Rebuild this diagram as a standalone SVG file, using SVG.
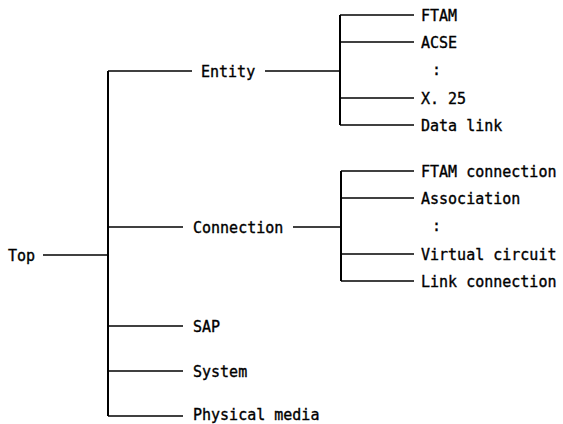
<svg xmlns="http://www.w3.org/2000/svg" width="563" height="424" viewBox="0 0 563 424">
<style>
.t{font-family:"DejaVu Sans Mono","Liberation Mono",monospace;font-size:15px;fill:#000;stroke:#000;stroke-width:0.35}
.c line{stroke:#000;stroke-width:1.4;fill:none}
.c .v{stroke-width:2}
</style>
<rect width="563" height="424" fill="#fff"/>
<g class="c" id="connectors">
<line x1="43" y1="255" x2="108" y2="255"/>
<line class="v" x1="108" y1="71" x2="108" y2="416"/>
<line x1="108" y1="71" x2="192" y2="71"/>
<line x1="265" y1="71" x2="340" y2="71"/>
<line class="v" x1="340" y1="15" x2="340" y2="125"/>
<line x1="340" y1="15" x2="414" y2="15"/>
<line x1="340" y1="42" x2="414" y2="42"/>
<line x1="340" y1="98" x2="414" y2="98"/>
<line x1="340" y1="125" x2="414" y2="125"/>
<line x1="108" y1="227" x2="183" y2="227"/>
<line x1="293" y1="227" x2="341" y2="227"/>
<line class="v" x1="341" y1="171" x2="341" y2="281"/>
<line x1="341" y1="171" x2="414" y2="171"/>
<line x1="341" y1="198" x2="414" y2="198"/>
<line x1="341" y1="254" x2="414" y2="254"/>
<line x1="341" y1="281" x2="414" y2="281"/>
<line x1="108" y1="326" x2="183" y2="326"/>
<line x1="108" y1="371" x2="183" y2="371"/>
<line x1="108" y1="416" x2="183" y2="416"/>
</g>
<g id="top"><text class="t" x="8" y="261">Top</text></g>
<g id="entity"><text class="t" x="201" y="77">Entity</text></g>
<g id="ftam"><text class="t" x="421" y="21">FTAM</text></g>
<g id="acse"><text class="t" x="421" y="48">ACSE</text></g>
<g id="ellipsis1"><text class="t" x="432" y="75">:</text></g>
<g id="x25"><text class="t" x="421" y="104">X. 25</text></g>
<g id="datalink"><text class="t" x="421" y="131">Data link</text></g>
<g id="connection"><text class="t" x="193" y="233">Connection</text></g>
<g id="ftamconn"><text class="t" x="421" y="177">FTAM connection</text></g>
<g id="association"><text class="t" x="421" y="204">Association</text></g>
<g id="ellipsis2"><text class="t" x="432" y="231">:</text></g>
<g id="vc"><text class="t" x="421" y="260">Virtual circuit</text></g>
<g id="linkconn"><text class="t" x="421" y="287">Link connection</text></g>
<g id="sap"><text class="t" x="193" y="332">SAP</text></g>
<g id="system"><text class="t" x="193" y="377">System</text></g>
<g id="physical"><text class="t" x="193" y="420">Physical media</text></g>
</svg>
